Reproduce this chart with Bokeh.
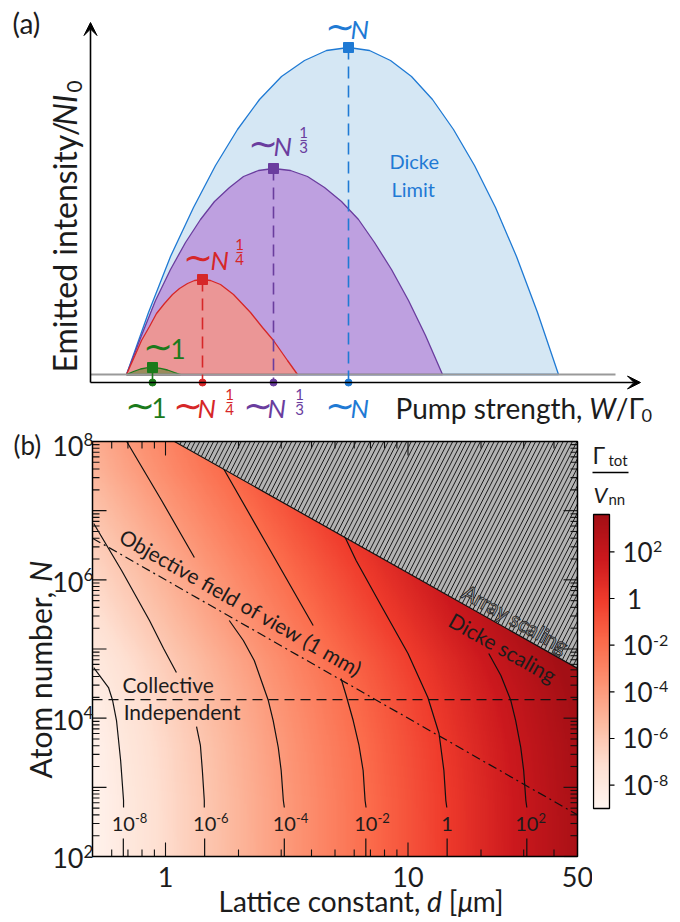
import math
import numpy as np
from bokeh.plotting import figure
from bokeh.models import Range1d, Label, Arrow, VeeHead, LinearColorMapper
from bokeh.layouts import column, row
from bokeh.embed import file_html
from bokeh.resources import INLINE
from bokeh.palettes import Reds256

FONT = "Lato"
INK = "#1c1c1c"
TILDE = "\u223c"

# ============ panel (a): schematic emission curves (pump W/Gamma0, intensity; arb. units) ============
blue_x = [0.36, 0.58, 0.80, 1.03, 1.25, 1.47, 1.69, 1.91, 2.14, 2.36, 2.58,
          2.79, 3.00, 3.21, 3.42, 3.63, 3.84, 4.05, 4.26, 4.47, 4.68]
blue_y = [0.00, 0.62, 1.18, 1.67, 2.09, 2.45, 2.75, 2.98, 3.14, 3.24, 3.27,
          3.24, 3.14, 2.98, 2.75, 2.45, 2.09, 1.67, 1.18, 0.62, 0.00]
purple_x = [0.36, 0.51, 0.65, 0.80, 0.95, 1.10, 1.24, 1.39, 1.53, 1.68, 1.83,
            2.00, 2.17, 2.34, 2.51, 2.68, 2.84, 3.01, 3.18, 3.35, 3.52]
purple_y = [0.00, 0.39, 0.74, 1.05, 1.32, 1.55, 1.73, 1.87, 1.98, 2.04, 2.06,
            2.04, 1.98, 1.87, 1.73, 1.55, 1.32, 1.05, 0.74, 0.39, 0.00]
red_x = [0.36, 0.44, 0.51, 0.59, 0.66, 0.74, 0.82, 0.89, 0.97, 1.04, 1.12,
         1.20, 1.30, 1.43, 1.60, 1.72, 1.83, 1.97, 2.07]
red_y = [0.00, 0.18, 0.34, 0.48, 0.61, 0.71, 0.80, 0.86, 0.91, 0.94, 0.95,
         0.94, 0.90, 0.80, 0.62, 0.47, 0.34, 0.14, 0.00]
green_x = [0.36, 0.43, 0.50, 0.56, 0.62, 0.70, 0.77, 0.84, 0.90]
green_y = [0.00, 0.03, 0.055, 0.067, 0.07, 0.062, 0.045, 0.02, 0.00]

# peaks: green (~1), red (~N^1/4), purple (~N^1/3), blue (~N)
peak_x = [0.62, 1.12, 1.83, 2.58]
peak_y = [0.07, 0.95, 2.06, 3.27]
pump_axis_y = -0.08
pump_axis_end = 5.5
intensity_axis_end = 3.52
baseline_end = 5.25

BLUE, BLUE_FILL = "#1f7ad4", "#d5e7f4"
PURPLE, PURPLE_FILL = "#6a3d9e", "#bea0e0"
RED, RED_FILL = "#d62728", "#eb9696"
GREEN, GREEN_FILL = "#1b7a1b", "#9b8a5c"
peak_colors = [GREEN, RED, PURPLE, BLUE]

# ============ panel (b): Gamma_tot / V_nn map ============
X_LO, X_HI = 0.5, 50.0
Y_LO, Y_HI = 1e2, 1e8
levels = [-8, -6, -4, -2, 0, 2]
contour_bottom_d = [0.67, 1.45, 3.09, 6.7, 14.5, 30.9]
# horizontal shift (decades of d) of the iso-lines vs. log10 N
row_logN = [2.0, 2.81, 3.58, 4.26, 4.83, 5.41, 6.32, 6.81, 7.61, 8.0]
row_shift = [0.0, 0.002, 0.025, 0.066, 0.128, 0.226, 0.370, 0.457, 0.601, 0.650]

# contour segments (log10 d, log10 N)
cm8_logd = [-0.173, -0.173, -0.185, -0.202, -0.218, -0.235, -0.296]
cm8_logN = [2.708, 2.810, 3.388, 3.966, 4.255, 4.443, 4.732]
cm6a_logd = [0.160, 0.160, 0.152, 0.144, 0.128]
cm6a_logN = [2.708, 2.810, 3.243, 3.605, 3.879]
cm6b_logd = [0.045, -0.008, -0.066, -0.181, -0.296]
cm6b_logN = [4.660, 5.007, 5.412, 6.135, 6.814]
cm4a_logd = [0.490, 0.486, 0.477, 0.465, 0.444, 0.424, 0.395, 0.366, 0.321, 0.263]
cm4a_logN = [2.708, 2.810, 3.243, 3.576, 3.966, 4.255, 4.544, 4.834, 5.123, 5.412]
cm4b_logd = [0.119, -0.016, -0.160]
cm4b_logN = [6.323, 7.147, 8.0]
cm2a_logd = [0.827, 0.823, 0.815, 0.798, 0.774, 0.745, 0.724]
cm2a_logN = [2.708, 2.810, 3.243, 3.605, 3.966, 4.328, 4.573]
cm2b_logd = [0.609, 0.424, 0.239]
cm2b_logN = [5.340, 6.475, 7.609]
c0_logd = [1.160, 1.156, 1.148, 1.128, 1.082, 1.041, 1.000, 0.889, 0.786, 0.737]
c0_logN = [2.708, 2.810, 3.243, 3.778, 4.299, 4.617, 4.935, 5.629, 6.279, 6.641]
c2_logd = [1.490, 1.486, 1.477, 1.465, 1.444, 1.424, 1.383, 1.333]
c2_logN = [2.708, 2.810, 3.243, 3.576, 3.966, 4.255, 4.617, 4.935]
stub_logN = [2.0, 2.26]
label_logN = 2.463

boundary_d = [1.089, 50.0]        # array-scaling limit
boundary_N = [1e8, 5.25e4]
fov_d = [0.5, 50.0]               # objective field of view (1 mm)
fov_N = [4e6, 4e2]
collective_N = 1.85e4

x_major = [1, 10]
x_minor = [0.6, 0.7, 0.8, 0.9, 2, 3, 4, 5, 6, 7, 8, 9, 20, 30, 40]
y_major = [1e2, 1e3, 1e4, 1e5, 1e6, 1e7, 1e8]
y_minor = [k * 10.0 ** e for e in range(2, 8) for k in range(2, 10)]
y_labels = [2, 4, 6, 8]
x_labels = [(1, "1"), (10, "10"), (50, "50")]

CB_LO, CB_HI = -9.0, 3.6

# ---------------------------------------------------------------
W = {' ': 0.19, ',': 0.2, '.': 0.2, '/': 0.38, '(': 0.3, ')': 0.3, '[': 0.3, ']': 0.3,
     '-': 0.34, 'A': 0.68, 'C': 0.68, 'D': 0.75, 'E': 0.56, 'I': 0.28, 'L': 0.48,
     'N': 0.76, 'O': 0.8, 'P': 0.6, 'V': 0.68, 'W': 0.95, '\u0393': 0.54,
     'a': 0.5, 'b': 0.56, 'c': 0.46, 'd': 0.56, 'e': 0.53, 'f': 0.33, 'g': 0.5,
     'h': 0.56, 'i': 0.24, 'j': 0.24, 'k': 0.5, 'l': 0.24, 'm': 0.84, 'n': 0.56,
     'o': 0.56, 'p': 0.56, 'r': 0.36, 's': 0.42, 't': 0.34, 'u': 0.56, 'v': 0.5,
     'w': 0.76, 'y': 0.5, '\u00b5': 0.56}
for dch in "0123456789":
    W[dch] = 0.58

K_BASE = 0.37   # empirical shift so that "alphabetic" anchors land on the baseline


def tw(s, size):
    return sum(W.get(c, 0.55) for c in s) * size


def lab(fig, x, y, text, size, color=INK, style="normal", align="left",
        base="alphabetic", xo=0, yo=0, angle=0.0, outline=None):
    c = K_BASE * size if base == "alphabetic" else (K_BASE - 0.36) * size
    xo_e = xo - math.sin(angle) * c
    yo_e = yo + math.cos(angle) * c
    lb = Label(x=x, y=y, text=text, text_font=FONT,
               text_font_size=f"{size:.1f}px", text_font_style=style,
               text_color=color, text_align=align, text_baseline="alphabetic",
               x_offset=xo_e, y_offset=yo_e, angle=angle)
    if outline is not None and "text_outline_color" in lb.properties():
        lb.text_outline_color = outline
    fig.add_layout(lb)


def rich(fig, x, y, parts, size, color=INK, xo=0, yo=0, vertical=False):
    off = 0.0
    for text, style, scale, dy, gap in parts:
        s = size * scale
        off += gap
        if vertical:
            lab(fig, x, y, text, s, color, style, xo=xo - dy, yo=yo + off, angle=math.pi / 2)
        else:
            lab(fig, x, y, text, s, color, style, xo=xo + off, yo=yo + dy)
        off += tw(text, s)


def bare(fig):
    fig.xgrid.visible = False
    fig.ygrid.visible = False
    if hasattr(fig, "frame_align"):
        fig.frame_align = False


# ======================= panel (a) =======================
A_H = 428
pa = figure(width=680, height=A_H, x_range=Range1d(-0.9, 5.9), y_range=Range1d(-0.54, 3.74),
            x_axis_location=None, y_axis_location=None, toolbar_location=None,
            min_border=0, outline_line_color=None, output_backend="svg")
bare(pa)

pa.patch(blue_x, blue_y, fill_color=BLUE_FILL, line_color=BLUE, line_width=1.3)
pa.patch(purple_x, purple_y, fill_color=PURPLE_FILL, line_color=PURPLE, line_width=1.3)
pa.patch(red_x, red_y, fill_color=RED_FILL, line_color=RED, line_width=1.3)
pa.patch(green_x, green_y, fill_color=GREEN_FILL, line_color=GREEN, line_width=1.3)
pa.line([0, baseline_end], [0, 0], line_color="#9a9a9a", line_width=2)

pa.segment(x0=peak_x[1:], y0=peak_y[1:], x1=peak_x[1:], y1=[pump_axis_y] * 3,
           line_color=peak_colors[1:], line_dash="12 7", line_width=1.6)
pa.segment(x0=peak_x[:1], y0=peak_y[:1], x1=peak_x[:1], y1=[pump_axis_y],
           line_color=GREEN, line_width=1.6)

pa.add_layout(Arrow(end=VeeHead(size=13, fill_color="black", line_color="black", line_width=1),
                    x_start=0, y_start=pump_axis_y, x_end=pump_axis_end, y_end=pump_axis_y,
                    line_width=1.6, line_color="black"))
pa.add_layout(Arrow(end=VeeHead(size=13, fill_color="black", line_color="black", line_width=1),
                    x_start=0, y_start=pump_axis_y, x_end=0, y_end=intensity_axis_end,
                    line_width=1.6, line_color="black"))

pa.scatter(peak_x, peak_y, marker="square", size=10, color=peak_colors)
pa.scatter(peak_x, [pump_axis_y] * 4, marker="circle", size=7, color=peak_colors)


def frac(fig, x, y, num, den, color, xo, yo_base):
    lab(fig, x, y, num, 15, color, align="center", xo=xo, yo=yo_base + 17)
    lab(fig, x, y, "\u2013", 15, color, align="center", xo=xo, yo=yo_base + 11)
    lab(fig, x, y, den, 15, color, align="center", xo=xo, yo=yo_base + 2)


S = 26
ST = 36   # tilde size
gx, rx, ux, bx = peak_x
lab(pa, gx, pump_axis_y, TILDE, ST, GREEN, xo=-28, yo=-35)
lab(pa, gx, pump_axis_y, "1", S, GREEN, align="center", xo=6.5, yo=-35)
lab(pa, rx, pump_axis_y, TILDE, ST, RED, xo=-30, yo=-35)
lab(pa, rx, pump_axis_y, "N", S, RED, style="italic", xo=-5, yo=-35)
frac(pa, rx, pump_axis_y, "1", "4", RED, 27, -35)
lab(pa, ux, pump_axis_y, TILDE, ST, PURPLE, xo=-31, yo=-35)
lab(pa, ux, pump_axis_y, "N", S, PURPLE, style="italic", xo=-6, yo=-35)
frac(pa, ux, pump_axis_y, "1", "3", PURPLE, 26, -35)
lab(pa, bx, pump_axis_y, TILDE, ST, BLUE, xo=-24, yo=-35)
lab(pa, bx, pump_axis_y, "N", S, BLUE, style="italic", xo=2, yo=-35)

gy, ry, uy, by = peak_y
lab(pa, gx, gy, TILDE, ST, GREEN, xo=-10, yo=9)
lab(pa, gx, gy, "1", S, GREEN, align="center", xo=25.5, yo=9)
lab(pa, rx, ry, TILDE, ST, RED, xo=-20, yo=10)
lab(pa, rx, ry, "N", S, RED, style="italic", xo=8, yo=10)
frac(pa, rx, ry, "1", "4", RED, 37, 12)
lab(pa, ux, uy, TILDE, ST, PURPLE, xo=-26, yo=13)
lab(pa, ux, uy, "N", S, PURPLE, style="italic", xo=0, yo=13)
frac(pa, ux, uy, "1", "3", PURPLE, 30, 13)
lab(pa, bx, by, TILDE, ST, BLUE, xo=-24, yo=9)
lab(pa, bx, by, "N", S, BLUE, style="italic", xo=2, yo=9)

lab(pa, 2.99, 2.06, "Dicke", 20, BLUE)
lab(pa, 3.01, 1.78, "Limit", 20, BLUE)
lab(pa, -0.78, 3.41, "(a)", 28)

rich(pa, 3.05, -0.44, [("Pump strength,", "normal", 1, 0, 0), ("W", "italic", 1, 0, 10),
                       ("/\u0393", "normal", 1, 0, 0), ("0", "normal", 0.65, -4, 0)], 28)
rich(pa, -0.14, 0.02, [("Emitted intensity/", "normal", 1, 0, 0), ("NI", "italic", 1, 0, 0),
                       ("0", "normal", 0.65, -6, 0)], 32, vertical=True)

# ======================= panel (b) (frame = whole canvas) =======================
B_W, B_H = 592, 922 - A_H
BL, BR, BT, BB = 92, 15, 13, 66          # where the data box sits inside the canvas
FRAME_W, FRAME_H = B_W - BL - BR, B_H - BT - BB
lx0, lx1 = math.log10(X_LO), math.log10(X_HI)
ly0, ly1 = math.log10(Y_LO), math.log10(Y_HI)
PXD_X = FRAME_W / (lx1 - lx0)
PXD_Y = FRAME_H / (ly1 - ly0)
xr = Range1d(10 ** (lx0 - BL / PXD_X), 10 ** (lx1 + BR / PXD_X))
yr = Range1d(10 ** (ly0 - BB / PXD_Y), 10 ** (ly1 + BT / PXD_Y))

pb = figure(width=B_W, height=B_H, x_axis_type="log", y_axis_type="log",
            x_range=xr, y_range=yr, x_axis_location=None, y_axis_location=None,
            min_border=0, outline_line_color=None, toolbar_location=None,
            output_backend="svg")
bare(pb)

reds = list(Reds256)
if int(reds[0][1:3], 16) < 128:
    reds = reds[::-1]
cmap = LinearColorMapper(palette=reds[:225], low=CB_LO, high=CB_HI)

# colour field built from the read iso-line positions
gx_ = np.linspace(lx0, lx1, 420)
gy_ = np.linspace(ly0, ly1, 420)
LX, LY = np.meshgrid(gx_, gy_)
E = LX + np.interp(LY, row_logN, row_shift)
bl = np.log10(contour_bottom_d)
V = np.interp(E, bl, levels)
s_lo = (levels[1] - levels[0]) / (bl[1] - bl[0])
s_hi = (levels[-1] - levels[-2]) / (bl[-1] - bl[-2])
V = np.where(E < bl[0], levels[0] + s_lo * (E - bl[0]), V)
V = np.where(E > bl[-1], levels[-1] + s_hi * (E - bl[-1]), V)
pb.image(image=[V], x=X_LO, y=Y_LO, dw=X_HI - X_LO, dh=Y_HI - Y_LO, color_mapper=cmap)

segs = [(cm8_logd, cm8_logN), (cm6a_logd, cm6a_logN), (cm6b_logd, cm6b_logN),
        (cm4a_logd, cm4a_logN), (cm4b_logd, cm4b_logN), (cm2a_logd, cm2a_logN),
        (cm2b_logd, cm2b_logN), (c0_logd, c0_logN), (c2_logd, c2_logN)]
for ld, lN in segs:
    pb.line(10 ** np.array(ld), 10 ** np.array(lN), line_color="#111111", line_width=1.2)
for d in contour_bottom_d:
    pb.line([d, d], 10 ** np.array(stub_logN), line_color="#111111", line_width=1.2)

pb.line([X_LO, X_HI], [collective_N, collective_N], line_color="#111111", line_width=1.3,
        line_dash="10 6")
pb.line(fov_d, fov_N, line_color="#111111", line_width=1.2, line_dash="9 4 2 4")

# hatched "array scaling" region: grey fill with steep black hatch lines
pb.patch([boundary_d[0], boundary_d[1], X_HI], [boundary_N[0], boundary_N[1], Y_HI],
         fill_color="#b3b3b3", line_color=None)
HATCH_GAP, HATCH_ANGLE = 4.6, math.radians(63)
kk = 1.0 / math.tan(HATCH_ANGLE)
uA = (math.log10(boundary_d[0]) - lx0) * PXD_X
vB = (ly1 - math.log10(boundary_N[1])) * PXD_Y
mm = vB / (FRAME_W - uA)
hx, hy = [], []
cc = uA + HATCH_GAP / 2
while cc < FRAME_W + kk * vB:
    if cc <= FRAME_W:
        u1, v1 = cc, 0.0
    else:
        u1, v1 = FRAME_W, (cc - FRAME_W) / kk
    u0 = (cc + kk * mm * uA) / (1 + kk * mm)
    v0 = mm * (u0 - uA)
    hx.append([10 ** (lx0 + u0 / PXD_X), 10 ** (lx0 + u1 / PXD_X)])
    hy.append([10 ** (ly1 - v0 / PXD_Y), 10 ** (ly1 - v1 / PXD_Y)])
    cc += HATCH_GAP
pb.multi_line(hx, hy, line_color="#1a1a1a", line_width=1.0)
pb.line(boundary_d, boundary_N, line_color="#111111", line_width=1.2)

# ticks on all four sides, pointing inwards
MAJ, MIN = 14, 7


def ticks_x(vals, ln):
    up = 10 ** (ly0 + ln / PXD_Y)
    dn = 10 ** (ly1 - ln / PXD_Y)
    pb.segment(x0=vals, y0=[Y_LO] * len(vals), x1=vals, y1=[up] * len(vals),
               line_color="#111111", line_width=1.1)
    pb.segment(x0=vals, y0=[Y_HI] * len(vals), x1=vals, y1=[dn] * len(vals),
               line_color="#111111", line_width=1.1)


def ticks_y(vals, ln):
    rt = 10 ** (lx0 + ln / PXD_X)
    lf = 10 ** (lx1 - ln / PXD_X)
    pb.segment(x0=[X_LO] * len(vals), y0=vals, x1=[rt] * len(vals), y1=vals,
               line_color="#111111", line_width=1.1)
    pb.segment(x0=[X_HI] * len(vals), y0=vals, x1=[lf] * len(vals), y1=vals,
               line_color="#111111", line_width=1.1)


ticks_x(x_major, MAJ)
ticks_x(x_minor, MIN)
ticks_y(y_major, MAJ)
ticks_y(y_minor, MIN)
pb.quad(left=X_LO, right=X_HI, bottom=Y_LO, top=Y_HI, fill_color=None,
        line_color="black", line_width=1.5)

# tick labels
for e in y_labels:
    dn = 3 if e == 8 else 0
    lab(pb, X_LO, 10.0 ** e, "10", 27, align="right", base="middle", xo=-9, yo=-2 - dn)
    lab(pb, X_LO, 10.0 ** e, str(e), 17, align="left", base="middle", xo=-9, yo=5 - dn)
for d, t in x_labels:
    lab(pb, d, Y_LO, t, 27, align="center", yo=-30)

# contour labels
LN = 10 ** label_logN
for L, d in zip(levels, contour_bottom_d):
    if L == 0:
        lab(pb, d, LN, "1", 20, align="center", base="middle")
    else:
        lab(pb, d, LN, "10", 20, align="center", base="middle")
        lab(pb, d, LN, str(L), 13, align="left", base="middle", xo=11.6, yo=6)

fov_slope = (math.log10(fov_N[0]) - math.log10(fov_N[1])) / (math.log10(fov_d[1]) - math.log10(fov_d[0]))
bnd_slope = (math.log10(boundary_N[0]) - math.log10(boundary_N[1])) / (math.log10(boundary_d[1]) - math.log10(boundary_d[0]))
ang_fov = -math.atan(fov_slope * PXD_Y / PXD_X)
ang_bnd = -math.atan(bnd_slope * PXD_Y / PXD_X)

lab(pb, 2.055, 4.7e5, "Objective field of view (1 mm)", 21, align="center", base="middle", angle=ang_fov)
lab(pb, 0.665, 2.35e4, "Collective", 21)
lab(pb, 0.672, 10 ** 3.981, "Independent", 21)
lab(pb, 24.6, 1.05e5, "Dicke scaling", 21, align="center", base="middle", angle=ang_bnd)
lab(pb, 27.8, 2.75e5, "Array scaling", 21, color="#c9c9c9", align="center", base="middle",
    angle=ang_bnd, outline="#2a2a2a")
lab(pb, X_LO, Y_HI, "(b)", 26, xo=-79, yo=-13)

rich(pb, X_LO, Y_LO, [("Lattice constant,", "normal", 1, 0, 0), ("d", "italic", 1, 0, 12),
                      ("[", "normal", 1, 0, 6), ("\u00b5", "italic", 1, 0, 0),
                      ("m]", "normal", 1, 0, 0)],
     28, xo=126, yo=-55)
rich(pb, X_LO, 10 ** 3.128, [("Atom number,", "normal", 1, 0, 0), ("N", "italic", 1, 0, 10)],
     30, xo=-41, vertical=True)

# ======================= colour bar (frame = whole canvas) =======================
C_W = 680 - B_W
CL, CT, CBOT = 1, 86, 114          # bar box inside the canvas (16 px wide)
CB_PX_W = 16
cpx = (CB_HI - CB_LO) / (B_H - CT - CBOT)
pc = figure(width=C_W, height=B_H,
            x_range=Range1d(-CL / CB_PX_W, (C_W - CL) / CB_PX_W),
            y_range=Range1d(CB_LO - CBOT * cpx, CB_HI + CT * cpx),
            x_axis_location=None, y_axis_location=None, min_border=0,
            outline_line_color=None, toolbar_location=None, output_backend="svg")
bare(pc)
ramp = np.linspace(CB_LO, CB_HI, 300).reshape(-1, 1)
pc.image(image=[ramp], x=0, y=CB_LO, dw=1, dh=CB_HI - CB_LO, color_mapper=cmap)
pc.quad(left=0, right=1, bottom=CB_LO, top=CB_HI, fill_color=None, line_color="black",
        line_width=1.3)
pc.segment(x0=[1] * len(levels), y0=levels, x1=[1 + 5 / CB_PX_W] * len(levels), y1=levels,
           line_color="black", line_width=1.1)

for L in levels:
    if L == 0:
        lab(pc, 1, L, "1", 26, align="center", base="middle", xo=25, yo=-1)
    else:
        lab(pc, 1, L, "10", 26, base="middle", xo=13)
        lab(pc, 1, L, str(L), 16, base="middle", xo=13 + 30.5, yo=5)

lab(pc, 0, CB_HI, "\u0393", 23, xo=-1, yo=51)
lab(pc, 0, CB_HI, "tot", 15, xo=15, yo=49)
pc.segment(x0=[-3 / CB_PX_W], y0=[CB_HI + 42 * cpx], x1=[35 / CB_PX_W], y1=[CB_HI + 42 * cpx],
           line_color="black", line_width=1.3)
lab(pc, 0, CB_HI, "V", 22, style="italic", xo=0, yo=12)
lab(pc, 0, CB_HI, "nn", 15, xo=15, yo=10)

layout = column(pa, row(pb, pc))
open("out.html", "w").write(file_html(layout, INLINE, title="Superradiance scaling"))
